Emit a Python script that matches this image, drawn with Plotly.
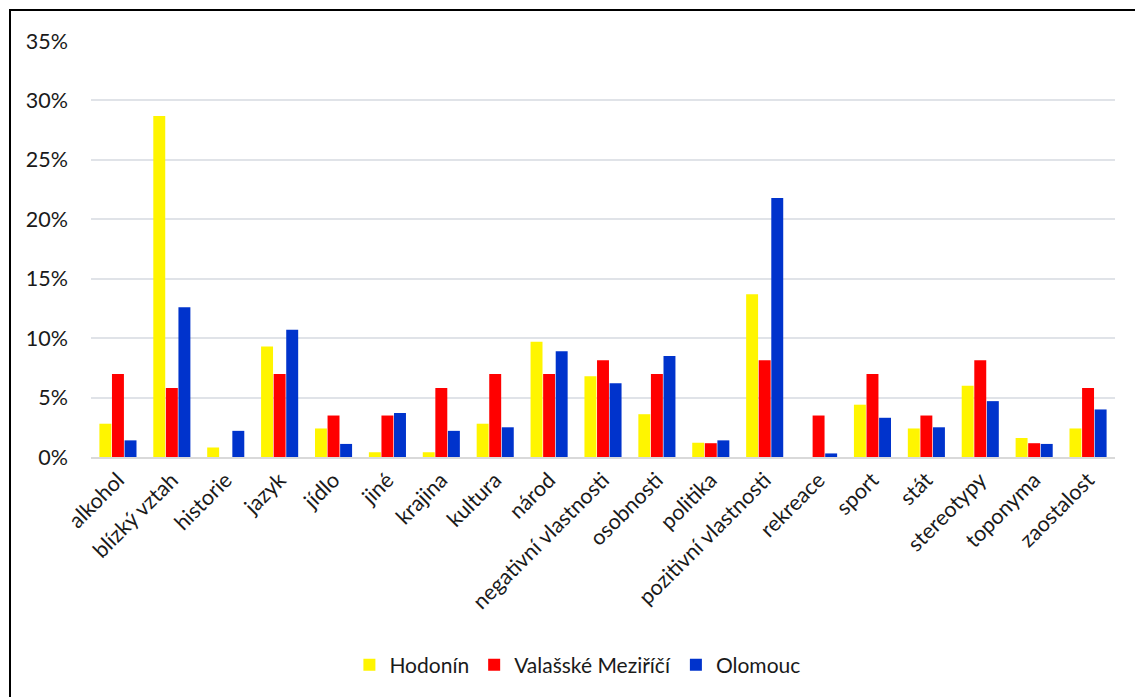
import plotly.graph_objects as go

categories = ["alkohol", "blízký vztah", "historie", "jazyk", "jídlo", "jiné", "krajina",
              "kultura", "národ", "negativní vlastnosti", "osobnosti", "politika",
              "pozitivní vlastnosti", "rekreace", "sport", "stát", "stereotypy",
              "toponyma", "zaostalost"]

hodonin = [2.8, 28.7, 0.8, 9.3, 2.4, 0.4, 0.4, 2.8, 9.7, 6.8, 3.6, 1.2, 13.7, 0.0, 4.4, 2.4, 6.0, 1.6, 2.4]
valasske = [6.98, 5.81, 0.0, 6.98, 3.49, 3.49, 5.81, 6.98, 6.98, 8.14, 6.98, 1.16, 8.14, 3.49, 6.98, 3.49, 8.14, 1.16, 5.81]
olomouc = [1.4, 12.6, 2.2, 10.7, 1.1, 3.7, 2.2, 2.5, 8.9, 6.2, 8.5, 1.4, 21.8, 0.3, 3.3, 2.5, 4.7, 1.1, 4.0]

series = [("Hodonín", hodonin, "#FFF500"),
          ("Valašské Meziříčí", valasske, "#FF0000"),
          ("Olomouc", olomouc, "#0033CC")]

fig = go.Figure()
for name, vals, col in series:
    fig.add_trace(go.Bar(x=categories, y=[v / 100 for v in vals], name=name,
                         marker=dict(color=col, line=dict(width=0))))

FONT = "Lato, 'Open Sans', sans-serif"
L, R, T, B = 91, 20, 41, 240
W, H = 1135, 697
pw, ph = W - L - R, H - T - B

fig.update_layout(
    width=W, height=H,
    margin=dict(l=L, r=R, t=T, b=B),
    paper_bgcolor="white", plot_bgcolor="white",
    barmode="group", bargap=0.3, bargroupgap=0.05,
    font=dict(family=FONT, size=21.5, color="#1a1a1a"),
    showlegend=True,
    legend=dict(orientation="h", x=0.475, xanchor="center", y=(T + ph - 665) / ph,
                yanchor="middle", font=dict(size=21), itemwidth=30,
                traceorder="normal"),
    xaxis=dict(tickangle=-45, showgrid=False, showline=True, linecolor="#D9D9D9",
               linewidth=2, ticks="", tickfont=dict(size=21.5)),
    yaxis=dict(range=[0, 0.35], dtick=0.05, tickformat=".0%", showgrid=True,
               gridcolor="#E0E3E8", gridwidth=2, zeroline=False, showline=False,
               ticks="", ticklabelstandoff=22, tickfont=dict(size=21.5)),
    shapes=[dict(type="rect", xref="paper", yref="paper",
                 x0=(10 - L) / pw, x1=(W + 20 - L) / pw,
                 y0=(T + ph - (H + 20)) / ph, y1=(T + ph - 10) / ph,
                 line=dict(color="black", width=2), fillcolor="rgba(0,0,0,0)",
                 layer="below")],
)

fig.write_html("out.html")
